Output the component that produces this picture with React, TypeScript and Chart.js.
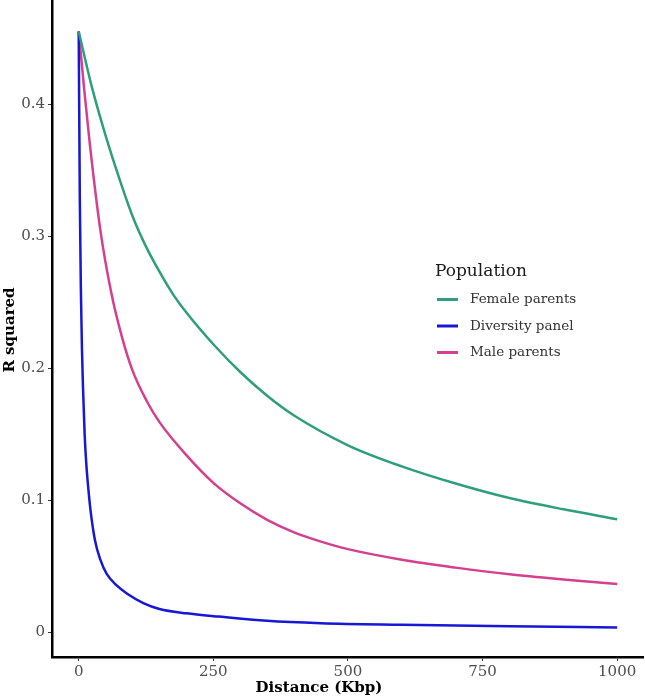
import { useEffect, useRef } from "react";
import { Chart, registerables } from "chart.js";

Chart.register(...registerables);

// Axis ticks
const xTicks = [0, 250, 500, 750, 1000];
const yTicks = [0, 0.1, 0.2, 0.3, 0.4];

// LD decay curves: distance (Kbp) vs. r²
const femaleKbp = [0, 25, 50, 75, 100, 125, 150, 175, 200, 250, 300, 350, 400, 500, 600, 700, 800, 900, 1000];
const femaleR2 = [0.455, 0.412, 0.376, 0.344, 0.315, 0.292, 0.273, 0.256, 0.242, 0.218, 0.197, 0.179, 0.164, 0.1415, 0.1255, 0.1125, 0.1015, 0.093, 0.0855];

const diversityKbp = [0, 2, 4, 6, 8, 11, 14, 18, 22, 30, 40, 52, 70, 90, 120, 150, 200, 260, 350, 450, 600, 800, 1000];
const diversityR2 = [0.455, 0.33, 0.26, 0.215, 0.185, 0.15, 0.128, 0.108, 0.092, 0.07, 0.055, 0.044, 0.0355, 0.029, 0.022, 0.0175, 0.0142, 0.0117, 0.0085, 0.0067, 0.0055, 0.0043, 0.0035];

const maleKbp = [0, 10, 20, 40, 60, 80, 100, 125, 150, 200, 250, 300, 350, 400, 450, 500, 600, 700, 800, 900, 1000];
const maleR2 = [0.455, 0.412, 0.372, 0.305, 0.258, 0.224, 0.198, 0.176, 0.159, 0.134, 0.113, 0.0975, 0.085, 0.0755, 0.0685, 0.0628, 0.0548, 0.0488, 0.0437, 0.0398, 0.0364];

const seriesNames = ["Female parents", "Diversity panel", "Male parents"];
const seriesColors = ["#2f9e7b", "#1717d4", "#d4408e"];

const legendTitle = "Population";
const xTitle = "Distance (Kbp)";
const yTitle = "R squared";

const FONT = "'DejaVu Serif', serif";

const pairs = (xs: number[], ys: number[]) => xs.map((x, i) => ({ x, y: ys[i] }));

// Legend and axis titles drawn on top of the plot
const overlayPlugin = {
  id: "overlay",
  afterDraw(chart: any) {
    const ctx = chart.ctx as CanvasRenderingContext2D;
    ctx.save();
    // legend
    ctx.fillStyle = "#1a1a1a";
    ctx.font = `17px ${FONT}`;
    ctx.textAlign = "left";
    ctx.textBaseline = "alphabetic";
    ctx.fillText(legendTitle, 435, 276);
    const ys = [299.5, 326, 352.5];
    chart.data.datasets.forEach((ds: any, i: number) => {
      ctx.strokeStyle = ds.borderColor;
      ctx.lineWidth = 3;
      ctx.beginPath();
      ctx.moveTo(437, ys[i]);
      ctx.lineTo(458, ys[i]);
      ctx.stroke();
      ctx.fillStyle = "#333333";
      ctx.font = `13.5px ${FONT}`;
      ctx.textBaseline = "middle";
      ctx.fillText(ds.label, 470, ys[i]);
    });
    // axis titles
    ctx.fillStyle = "#000000";
    ctx.font = `bold 15px ${FONT}`;
    ctx.textAlign = "center";
    ctx.textBaseline = "middle";
    ctx.fillText(xTitle, 319, 688);
    ctx.translate(10, 330);
    ctx.rotate(-Math.PI / 2);
    ctx.fillText(yTitle, 0, 0);
    ctx.restore();
  },
};

export default function App() {
  const canvasRef = useRef<HTMLCanvasElement | null>(null);

  useEffect(() => {
    const canvas = canvasRef.current;
    if (!canvas) return;
    const chart = new Chart(canvas, {
      type: "line",
      data: {
        datasets: [
          { label: seriesNames[0], data: pairs(femaleKbp, femaleR2), borderColor: seriesColors[0] },
          { label: seriesNames[1], data: pairs(diversityKbp, diversityR2), borderColor: seriesColors[1] },
          { label: seriesNames[2], data: pairs(maleKbp, maleR2), borderColor: seriesColors[2] },
        ].map((d) => ({
          ...d,
          borderWidth: 2.5,
          pointRadius: 0,
          fill: false,
          cubicInterpolationMode: "monotone" as const,
        })),
      },
      options: {
        responsive: false,
        animation: false,
        layout: { padding: { top: 0, right: 2, left: 0, bottom: 0 } },
        plugins: {
          legend: { display: false },
          tooltip: { enabled: false },
        },
        scales: {
          x: {
            type: "linear",
            min: -49.6,
            max: 1048,
            afterFit: (s: any) => {
              s.height = 42;
              s.paddingLeft = 0;
              s.paddingRight = 0;
            },
            afterBuildTicks: (s: any) => {
              s.ticks = xTicks.map((v) => ({ value: v }));
            },
            border: { display: true, color: "#000000", width: 2.5 },
            grid: { display: true, drawOnChartArea: false, drawTicks: true, tickLength: 4, color: "#333333", lineWidth: 1 },
            ticks: {
              padding: 2,
              color: "#4d4d4d",
              font: { family: FONT, size: 15 },
              maxRotation: 0,
              callback: (v: any) => String(v),
            },
          },
          y: {
            type: "linear",
            min: -0.0189,
            max: 0.4788,
            afterFit: (s: any) => {
              s.width = 52;
              s.paddingTop = 0;
              s.paddingBottom = 0;
            },
            afterBuildTicks: (s: any) => {
              s.ticks = yTicks.map((v) => ({ value: v }));
            },
            border: { display: true, color: "#000000", width: 2.5 },
            grid: { display: true, drawOnChartArea: false, drawTicks: true, tickLength: 4, color: "#333333", lineWidth: 1 },
            ticks: {
              padding: 3,
              color: "#4d4d4d",
              font: { family: FONT, size: 15 },
              callback: (v: any) => String(Math.round(v * 10) / 10),
            },
          },
        },
      },
      plugins: [overlayPlugin],
    });
    return () => chart.destroy();
  }, []);

  return (
    <div style={{ position: "fixed", left: 0, top: 0, width: 645, height: 699, background: "#ffffff" }}>
      <canvas ref={canvasRef} width={645} height={699} />
    </div>
  );
}
